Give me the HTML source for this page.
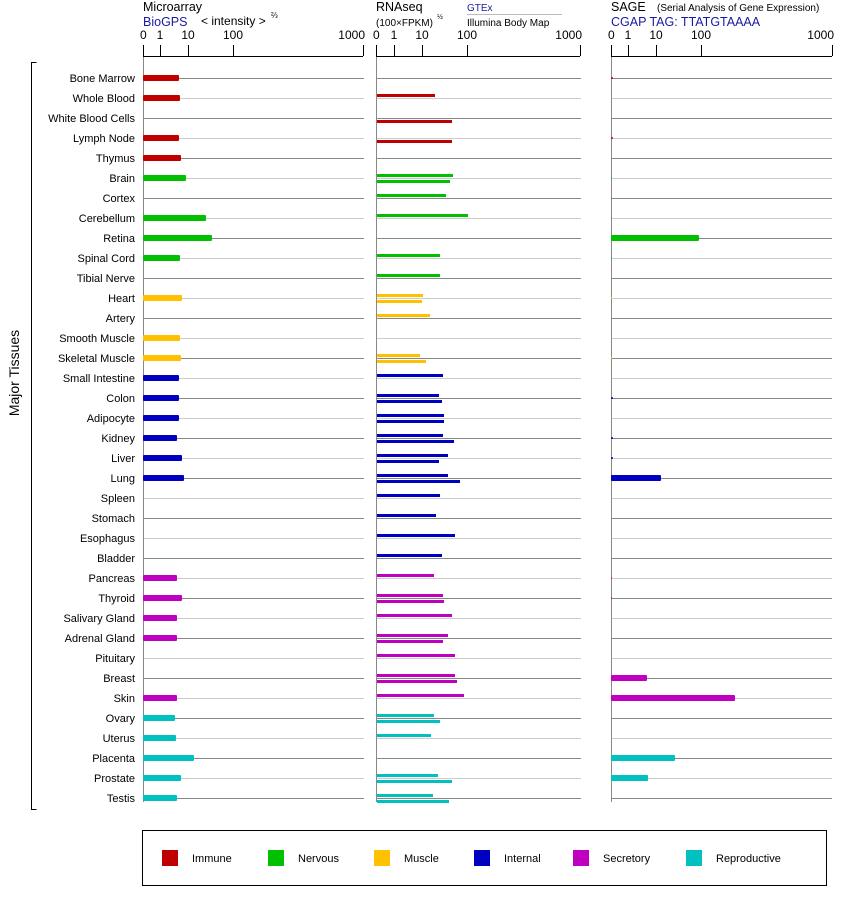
<!DOCTYPE html>
<html><head><meta charset="utf-8"><style>
body{margin:0;background:#fff;width:842px;height:900px;overflow:hidden}
svg{display:block;font-family:"Liberation Sans",Arial,sans-serif}
</style></head><body>
<svg id="s" width="842" height="900" xmlns="http://www.w3.org/2000/svg">
<text x="143" y="11" font-size="12.5">Microarray</text>
<text x="143" y="26" font-size="12.5" fill="#1a1aa0">BioGPS</text>
<text x="201" y="25" font-size="12">&lt; intensity &gt;</text>
<text x="271" y="18" font-size="8">⅔</text>
<text x="376" y="11" font-size="12.5">RNAseq</text>
<text x="376" y="26" font-size="10">(100×FPKM)</text>
<text x="437" y="19" font-size="7">½</text>
<text x="467" y="11" font-size="10" fill="#1a1aa0">GTEx</text>
<line x1="467" y1="14.5" x2="562" y2="14.5" stroke="#bbb"/>
<text x="467" y="26" font-size="10">Illumina Body Map</text>
<text x="611" y="11" font-size="12.5">SAGE</text>
<text x="657" y="11" font-size="10">(Serial Analysis of Gene Expression)</text>
<text x="611" y="26" font-size="12.5" fill="#1a1aa0">CGAP TAG: TTATGTAAAA</text>
<text transform="translate(19,373) rotate(-90)" font-size="14" text-anchor="middle">Major Tissues</text>
<path d="M36.5 62.5H31.5V809.5H36.5" fill="none" stroke="#000"/>
<rect x="142.5" y="830.5" width="684" height="55" fill="none" stroke="#000"/>
<g id="g"></g>
</svg>
<script>
var g=document.getElementById('g'),h='';
function L(x1,y1,x2,y2,c,w){h+='<line x1="'+x1+'" y1="'+y1+'" x2="'+x2+'" y2="'+y2+'" stroke="'+c+'" stroke-width="'+(w||1)+'"/>';}
function T(x,y,t,a,fs){h+='<text x="'+x+'" y="'+y+'" font-size="'+(fs||11)+'" text-anchor="'+(a||'start')+'">'+t+'</text>';}
var panels=[[143,160,188,233,363],[376,394,422,467,580],[611,628,656,701,832]];
panels.forEach(function(p){
 L(p[0],56.5,p[4],56.5,'#000');
 var lab=['0','1','10','100','1000'];
 p.forEach(function(x,i){L(x+.5,45,x+.5,56,'#000');T(i==4?x+2:(i==0?x-3:x),39,lab[i],i==4?'end':(i==0?'start':'middle'),12);});
 L(p[0]+.5,57,p[0]+.5,802,'#888');
});
var names=["Bone Marrow","Whole Blood","White Blood Cells","Lymph Node","Thymus","Brain","Cortex","Cerebellum","Retina","Spinal Cord","Tibial Nerve","Heart","Artery","Smooth Muscle","Skeletal Muscle","Small Intestine","Colon","Adipocyte","Kidney","Liver","Lung","Spleen","Stomach","Esophagus","Bladder","Pancreas","Thyroid","Salivary Gland","Adrenal Gland","Pituitary","Breast","Skin","Ovary","Uterus","Placenta","Prostate","Testis"];
var C={I:'#c00000',N:'#00c000',M:'#ffc000',T:'#0000c0',S:'#c000c0',R:'#00c0c0'};
var cat="IIIIINNNNNNMMMMTTTTTTTTTTSSSSSSSRRRRR";
var ma=[179,180,0,179,181,186,0,206,212,180,0,182,0,180,181,179,179,179,177,182,184,0,0,0,0,177,182,177,177,0,0,177,175,176,194,181,177];
var rn=[[],[435],[0,452],[0,452],[],[453,450],[446],[468],[],[440],[440],[423,422],[430],[],[420,426],[443],[439,442],[444,444],[443,454],[448,439],[448,460],[440],[436],[455],[442],[434],[443,444],[452],[448,443],[455],[455,457],[464],[434,440],[431],[],[438,452],[433,449]];
var sg=[613,0,0,613,0,612,612,612,699,612,0,612,0,0,612,0,613,0,613,613,661,0,0,0,0,612,612,0,0,0,647,735,0,0,675,648,0];
names.forEach(function(n,i){
 var y=78+i*20,c=C[cat[i]],gc=i%2==0?'#888':'#ccc';
 T(135,y+4,n,'end',11);
 L(144,y+.5,364,y+.5,gc);L(377,y+.5,581,y+.5,gc);L(612,y+.5,832,y+.5,gc);
 if(ma[i])h+='<rect x="143" y="'+(y-3)+'" width="'+(ma[i]-143)+'" height="6" rx="1" fill="'+c+'"/>';
 rn[i].forEach(function(e,k){if(e)h+='<rect x="377" y="'+(y+(k?2:-4))+'" width="'+(e-377)+'" height="3" fill="'+c+'"/>';});
 if(sg[i])h+='<rect x="611" y="'+(y-(sg[i]<620?1:3))+'" width="'+(sg[i]-611)+'" height="'+(sg[i]<620?2:6)+'" rx="1" fill="'+c+'"/>';
});
var lg=[[162,'Immune','I'],[268,'Nervous','N'],[374,'Muscle','M'],[474,'Internal','T'],[573,'Secretory','S'],[686,'Reproductive','R']];
lg.forEach(function(l){h+='<rect x="'+l[0]+'" y="850" width="16" height="16" fill="'+C[l[2]]+'"/>';T(l[0]+30,862,l[1],'start',11);});
g.innerHTML=h;
</script>
</body></html>
